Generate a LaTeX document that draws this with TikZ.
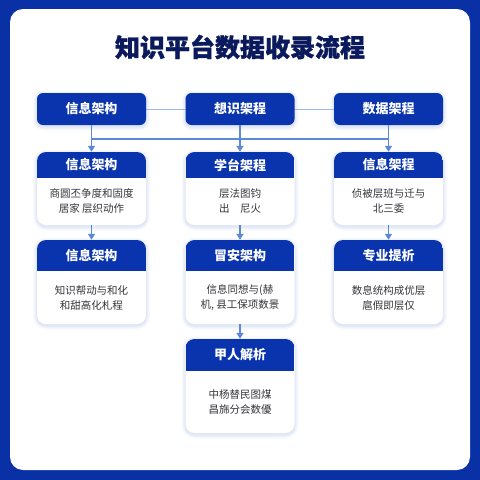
\documentclass[tikz,border=0pt]{standalone}
\usepackage{fontspec}
\newfontfamily\cjk{Noto Sans CJK SC}
\newfontfamily\cjkt[BoldFeatures={FakeBold=1.3}]{Noto Sans CJK SC}
\usetikzlibrary{arrows.meta}
\definecolor{frame}{HTML}{0A30A6}
\definecolor{hdr}{HTML}{0934AE}
\definecolor{titlec}{HTML}{0B1A5C}
\definecolor{linec}{HTML}{5C88D8}
\definecolor{bodyc}{HTML}{35353A}
\definecolor{shadc}{HTML}{9DB3E6}
\tikzset{
  topbox/.style={fill=hdr, rounded corners=6pt, minimum width=109pt, minimum height=32pt, inner sep=0pt, text=white, font=\cjk\bfseries\fontsize{13}{15}\selectfont},
  cardbox/.style={fill=white, rounded corners=9pt, inner sep=0pt},
  hdrtext/.style={text=white, font=\cjk\bfseries\fontsize{13}{15}\selectfont, inner sep=0pt},
  bodytext/.style={text=bodyc, font=\cjk\fontsize{10.5}{15}\selectfont, align=center, inner sep=0pt},
  conn/.style={linec, line width=1.1pt},
  arr/.style={linec, line width=1.3pt, -{Triangle[length=6pt,width=7pt]}},
  hline/.style={linec!60, line width=0.9pt},
}
% soft shadow: \shadowmk{xc}{ytop}{w}{h}{r}
\newcommand{\shadowmk}[5]{%
  \foreach \s/\o in {4/0.05,3/0.07,2/0.09,1/0.12}{
    \fill[shadc, opacity=\o, rounded corners=#5pt+\s pt] (#1-#3/2-\s,#2-\s+1.5) rectangle (#1+#3/2+\s,#2+#4+\s+1.5);
  }}
% \cardmk{name}{xc}{ytop}{h}{hh}{title}{body}
\newcommand{\cardmk}[7]{%
  \shadowmk{#2}{#3}{109}{#4}{9}
  \node[cardbox, minimum width=109pt, minimum height=#4 pt] (#1) at (#2,#3+#4/2) {};
  \begin{scope}
    \clip[rounded corners=9pt] (#2-54.5,#3) rectangle (#2+54.5,#3+#4);
    \fill[hdr] (#2-54.5,#3-1) rectangle (#2+54.5,#3+#5);
  \end{scope}
  \node[hdrtext] (#1h) at (#2,#3+#5/2) {#6};
  \node[bodytext] (#1b) at (#2,{#3+#5+(#4-#5)/2}) {#7};
}
\begin{document}
\begin{tikzpicture}[x=1pt,y=-1pt]
\useasboundingbox (0,0) rectangle (480,480);
\fill[frame] (0,0) rectangle (480,480);
\fill[white, rounded corners=13pt] (10,9) rectangle (470,470);
\node[text=titlec, font=\cjkt\bfseries\fontsize{25}{28}\selectfont, inner sep=0pt] (title) at (240,47) {知识平台数据收录流程};

% top row
\shadowmk{91.5}{93}{109}{32}{6}
\shadowmk{240}{93}{109}{32}{6}
\shadowmk{388.5}{93}{109}{32}{6}
\draw[hline] (91.5,109) -- (388.5,109);
\node[topbox] (t1) at (91.5,109) {信息架构};
\node[topbox] (t2) at (240,109) {想识架程};
\node[topbox] (t3) at (388.5,109) {数据架程};

% cards
\cardmk{c11}{91.5}{152}{73}{26}{信息架构}{商圆丕争度和固度\\居家\ 层织动作}
\cardmk{c21}{240}{152}{73}{26}{学台架程}{层法图钧\\出\quad 尼火}
\cardmk{c31}{388.5}{152}{73}{26}{信息架程}{侦被层班与迁与\\北三委}
\cardmk{c12}{91.5}{240}{84}{31}{信息架构}{知识帮动与和化\\和甜高化札程}
\cardmk{c22}{240}{240}{84}{31}{冒安架构}{信息同想与(赫\\机, 县工保项数景}
\cardmk{c32}{388.5}{240}{84}{31}{专业提析}{数息统构成优层\\扈假即层仅}
\cardmk{c23}{240}{339}{94}{32}{甲人解析}{中杨替民图煤\\昌旆分会数優}

% connectors top -> row 2
\coordinate (j1) at (91.5,139);
\coordinate (j3) at (388.5,139);
\draw[conn] (j1) -- (j3);
\draw[arr] (t1.south) -- (c11.north);
\draw[arr] (t2.south) -- (c21.north);
\draw[arr] (t3.south) -- (c31.north);
% row 2 -> row 3
\draw[arr] (c11.south) -- (c12.north);
\draw[arr] (c21.south) -- (c22.north);
\draw[arr] (c31.south) -- (c32.north);
\draw[arr] (c22.south) -- (c23.north);
\end{tikzpicture}
\end{document}
